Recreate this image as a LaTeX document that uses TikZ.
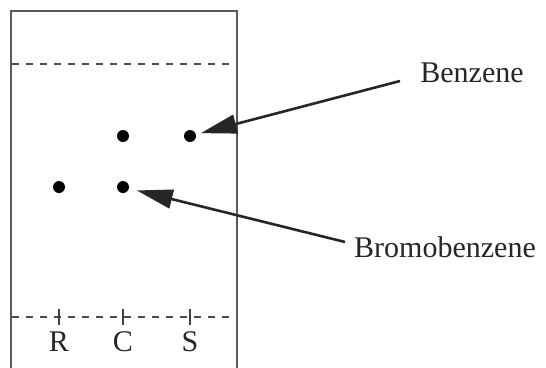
\documentclass[tikz,border=0pt]{standalone}
\usepackage{fontspec}
\setmainfont{Liberation Serif}
\usetikzlibrary{arrows.meta}
\begin{document}
\begin{tikzpicture}[x=1pt,y=-1pt,
  plate/.style={line width=2.8pt,draw=black!65},
  front/.style={line width=2.4pt,draw=black!70,dash pattern=on 7pt off 7pt},
  tick/.style={line width=1.6pt,draw=black!75},
  spot/.style={circle,fill=black,inner sep=0pt,minimum size=12pt},
  lbl/.style={font=\fontsize{30}{32}\selectfont,text=black!85,inner sep=0pt},
  pointer/.style={line width=2.6pt,draw=black!85,-{Triangle[length=36pt,width=19pt]}}]
\useasboundingbox (0,0) rectangle (546,367);
\draw[plate] (11,368) -- (11,11) -- (237,11) -- (237,368);
\draw[front] (12,64) -- (236,64);
\draw[front] (12,317) -- (236,317);
\foreach \x/\t/\n in {59/R/r,123/C/c,190/S/s}{
  \draw[tick] (\x,309) -- (\x,325);
  \node[lbl] (\n) at (\x,342) {\t};
}
\node[spot] (c1) at (123,136) {};
\node[spot] (s1) at (190,136) {};
\node[spot] (r1) at (59,187) {};
\node[spot] (c2) at (123,187) {};
\node[lbl] (benz) at (472,73) {Benzene};
\node[lbl] (brom) at (445,247) {Bromobenzene};
\coordinate (pb) at (400,81);
\coordinate (pr) at (345,242);
\draw[pointer,shorten >=5pt] (pb) -- (s1);
\draw[pointer,shorten >=8pt] (pr) -- (c2);
\end{tikzpicture}
\end{document}
